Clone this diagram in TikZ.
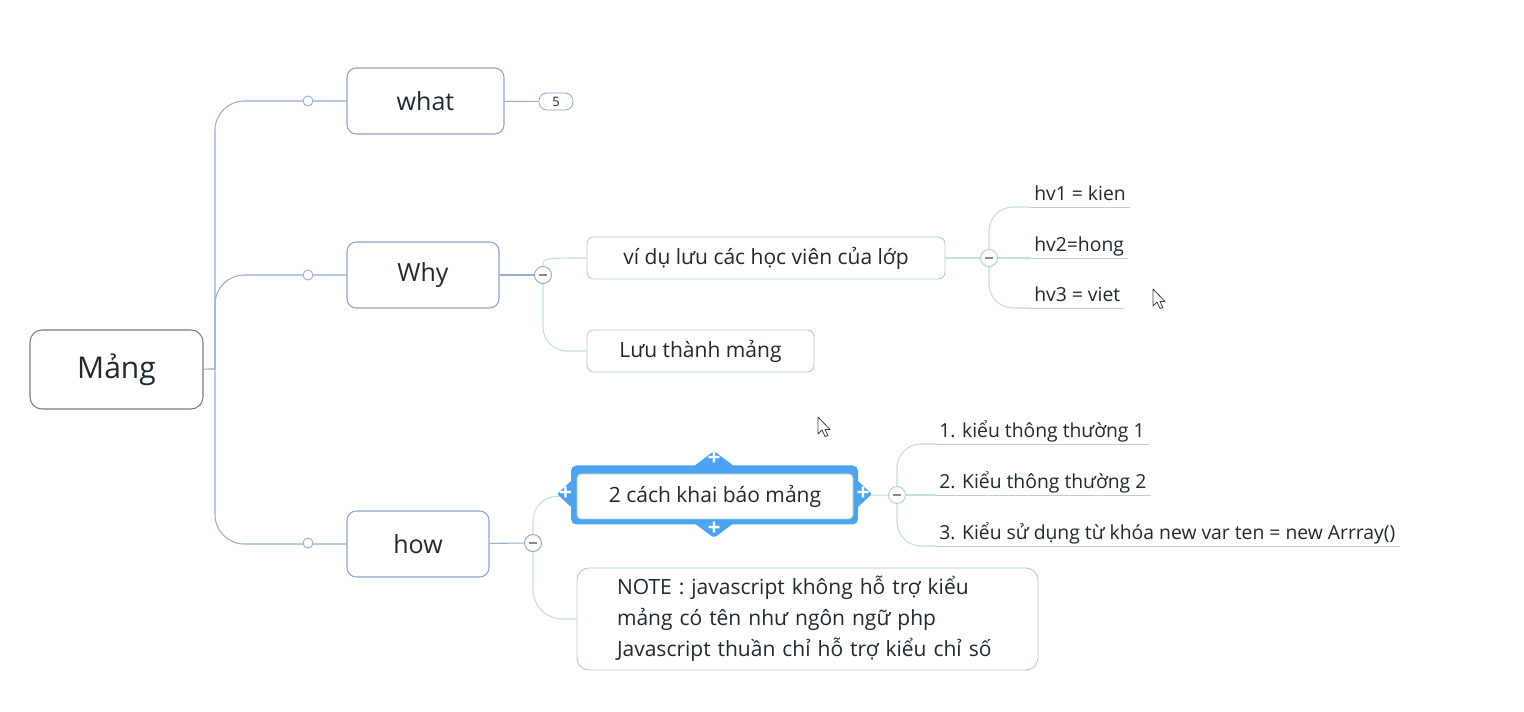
\documentclass[tikz,border=0pt]{standalone}
\usepackage{fontspec}
\setmainfont{Open Sans}
\usepackage{xcolor}
\usetikzlibrary{positioning,backgrounds,shapes.geometric}
\definecolor{Ink}{HTML}{1E2A30}
\definecolor{Grey}{HTML}{7C7C7C}
\definecolor{Frame}{HTML}{8FA7CB}
\definecolor{Stem}{HTML}{98AFD3}
\definecolor{LeafBox}{HTML}{A9D6BD}
\definecolor{Leaf}{HTML}{C3E2CF}
\definecolor{Rule}{HTML}{C8CBCE}
\definecolor{Minus}{HTML}{8A8A8A}
\definecolor{Sel}{HTML}{4BA3F2}

\begin{document}
\begin{tikzpicture}[x=0.75pt,y=-0.75pt,
  topic/.style={draw=Frame,fill=white,text=Ink,line width=0.8pt,rounded corners=7pt,font=\fontsize{18.75}{22}\selectfont},
  idea/.style={draw=LeafBox,fill=white,text=Ink,line width=0.7pt,rounded corners=5pt,font=\fontsize{15.75}{23.25}\selectfont},
  leaf/.style={text=Ink,anchor=south west,inner xsep=3pt,inner ysep=2pt,text depth=3pt,font=\fontsize{14.5}{17}\selectfont},
  stem/.style={Stem,line width=0.8pt},
  twig/.style={Leaf,line width=0.8pt},
  knob/.style={circle,draw=Stem,fill=white,line width=0.7pt,minimum size=7.5pt,inner sep=0pt},
  fold/.style={circle,draw=#1,fill=white,line width=0.7pt,minimum size=12.75pt,inner sep=0pt,
    path picture={\draw[Minus,line width=0.8pt] (path picture bounding box.center) ++(-3pt,0) -- ++(6pt,0);}},
  handle/.style={diamond,fill=Sel,inner sep=0pt,rounded corners=1.5pt},
  plusmark/.style={text=white,inner sep=0pt,font=\fontsize{17}{17}\selectfont\bfseries},
  cursor/.style={draw=black!75,fill=white,line width=0.6pt,line join=round}]
\useasboundingbox (0,0) rectangle (1524,712);

% central topic and main branches
\node[draw=Grey,fill=white,text=Ink,line width=0.8pt,rounded corners=9pt,minimum width=129.75pt,minimum height=59.25pt,font=\fontsize{22.5}{26}\selectfont] (mang) at (116.5,369.5) {Mảng};
\node[topic,minimum width=117.75pt,minimum height=49.5pt] (what) at (425.5,101) {what};
\node[topic,minimum width=114pt,minimum height=49.5pt] (why) at (423,275) {Why};
\node[topic,minimum width=106.5pt,minimum height=49.5pt] (how) at (418,544) {how};
\node[draw=Frame,fill=white,text=Ink,rounded corners=6pt,line width=0.6pt,minimum width=25.5pt,minimum height=12.75pt,inner sep=0pt,font=\fontsize{9.75}{10}\selectfont] (count) at (556,101.5) {5};

\node[knob] (kWhat) at (308,101) {};
\node[knob] (kWhy) at (308,275) {};
\node[knob] (kHow) at (308,543) {};

\node[fold=Frame] (whyFold) at (543,275) {};
\node[fold=Frame] (howFold) at (533,543) {};
\node[fold=LeafBox] (viduFold) at (989,258) {};
\node[fold=LeafBox] (kieuFold) at (897,495) {};

% why
\node[idea,minimum width=268.5pt,minimum height=31.5pt] (vidu) at (766,258) {ví dụ lưu các học viên của lớp};
\node[idea,minimum width=170.25pt,minimum height=31.5pt] (luu) at (700.5,351) {Lưu thành mảng};

\node[leaf] (hv1) at (1030,207) {hv1 = kien};
\node[leaf] (hv2) at (1030,258) {hv2=hong};
\node[leaf] (hv3) at (1030,308) {hv3 = viet};

% how (selected topic)
\node[fill=Sel,rounded corners=4pt,minimum width=215.25pt,minimum height=44.25pt] (sel) at (714.5,495) {};
\node[handle,minimum width=30pt,minimum height=22.5pt] (hTop) at (714,466) {};
\node[handle,minimum width=30pt,minimum height=22.5pt] (hBot) at (714,523) {};
\node[handle,minimum width=22.5pt,minimum height=21pt] (hLeft) at (572,494) {};
\node[handle,minimum width=22.5pt,minimum height=21pt] (hRight) at (857,494) {};
\node[plusmark] (pTop) at (714,459) {+};
\node[plusmark] (pBot) at (714,529) {+};
\node[plusmark] (pLeft) at (565.5,494) {+};
\node[plusmark] (pRight) at (863,494) {+};
\node[idea,rounded corners=3pt,minimum width=207pt,minimum height=33.75pt] (cach) at (715,496.5) {2 cách khai báo mảng};

\node[idea,align=left,rounded corners=9pt,text width=285.75pt,inner xsep=30pt,minimum height=76.5pt] (note) at (807.5,619) {NOTE : javascript không hỗ trợ kiểu\\mảng có tên như ngôn ngữ php\\Javascript thuần chỉ hỗ trợ kiểu chỉ số};

\node[leaf] (k1) at (935,444) {1. kiểu thông thường 1};
\node[leaf] (k2) at (935,495) {2. Kiểu thông thường 2};
\node[leaf] (k3) at (935,546) {3. Kiểu sử dụng từ khóa new var ten = new Arrray()};

\begin{scope}[on background layer]
\fill[white] (0,0) rectangle (1524,712);
\coordinate (fork) at (215,369);
\draw[stem] (mang) -- (fork);
\draw[stem,rounded corners=22pt] (fork) |- (what);
\draw[stem,rounded corners=22pt] (fork) |- (why);
\draw[stem,rounded corners=22pt] (fork) |- (how);
\draw[stem] (what) -- (count);
\draw[stem] (why) -- (whyFold);
\draw[stem] (how) -- (howFold);
\draw[twig] (whyFold.north) .. controls (whyFold.north |- vidu.west) .. (vidu.west);
\draw[twig,rounded corners=18pt] (whyFold) |- (luu);
\draw[twig] (vidu) -- (viduFold);
\draw[twig,rounded corners=18pt] (viduFold) |- (hv1.south west);
\draw[twig] (viduFold) -- (hv2.south west);
\draw[twig,rounded corners=18pt] (viduFold) |- (hv3.south west);
\draw[twig,rounded corners=18pt] (howFold) |- (cach);
\draw[twig,rounded corners=22pt] (howFold) |- (note);
\draw[twig] (cach) -- (kieuFold);
\draw[twig,rounded corners=18pt] (kieuFold) |- (k1.south west);
\draw[twig] (kieuFold) -- (k2.south west);
\draw[twig,rounded corners=18pt] (kieuFold) |- (k3.south west);
\end{scope}

% underlines of the leaf topics
\foreach \t in {hv1,hv2,hv3,k1,k2,k3}
  \draw[Rule,line width=0.7pt] (\t.south west) -- (\t.south east);

% mouse pointers
\draw[cursor,shift={(818,417)}] (0,0) -- (0,17) -- (4,13) -- (7,19.5) -- (10,18.5) -- (7,12.5) -- (12,12.5) -- cycle;
\draw[cursor,shift={(1153,289)}] (0,0) -- (0,17) -- (4,13) -- (7,19.5) -- (10,18.5) -- (7,12.5) -- (12,12.5) -- cycle;
\end{tikzpicture}
\end{document}
